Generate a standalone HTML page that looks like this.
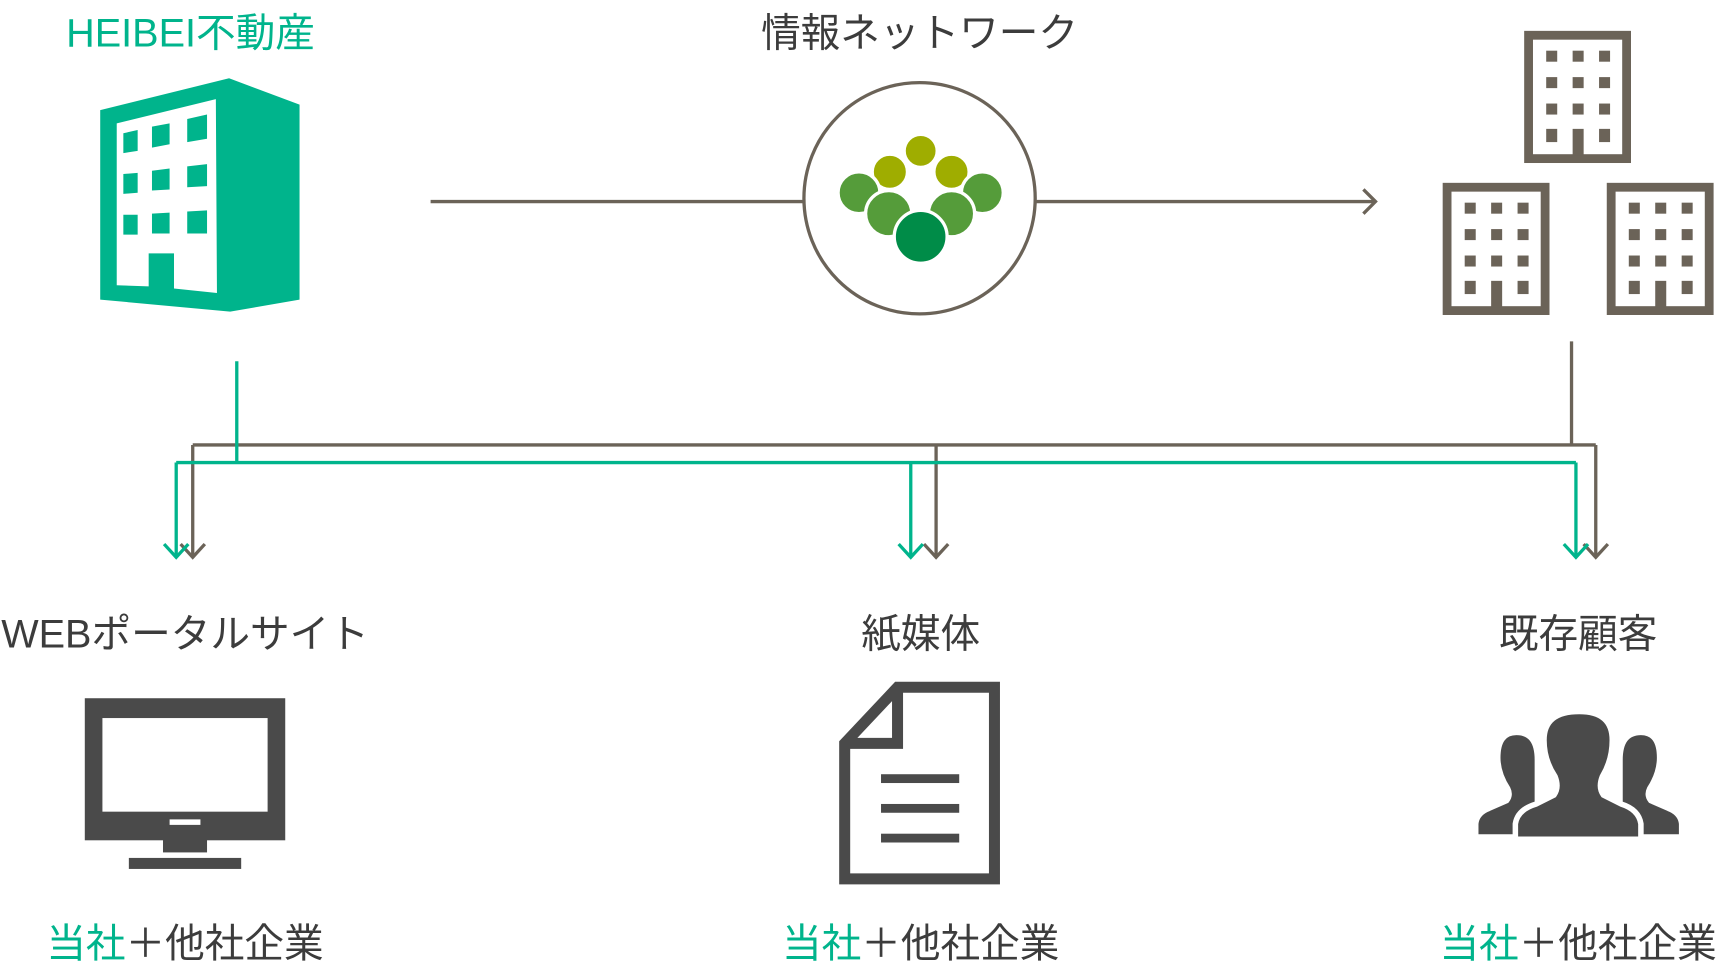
<!DOCTYPE html>
<html><head><meta charset="utf-8"><style>
html,body{margin:0;padding:0;background:#fff;}
svg{display:block;}
text{font-family:"Liberation Sans","Noto Sans CJK JP",sans-serif;}
</style></head><body>
<svg width="1718" height="964" viewBox="0 0 1560 875.3" xmlns="http://www.w3.org/2000/svg">
<!-- titles -->
<text x="173" y="42" font-size="36" fill="#00b48c" text-anchor="middle">HEIBEI不動産</text>
<text x="835" y="42" font-size="36" fill="#3c3c3c" text-anchor="middle">情報ネットワーク</text>

<!-- green building -->
<polygon points="91,100 208,71 272,95 272,272 209,283 91,272" fill="#00b48c"/>
<polygon points="106,112 196,90 197,266 158,262 158,230 135,230 135,260 106,259" fill="#fff"/>
<g fill="#00b48c">
<polygon points="112,121 125,118 125,137 112,139"/>
<polygon points="138,115 154,112 154,131 138,134"/>
<polygon points="170,108 188,104 188,126 170,129"/>
<polygon points="112,158 125,157 125,175 112,176"/>
<polygon points="138,155 154,153 154,172 138,173"/>
<polygon points="170,151 188,149 188,169 170,170"/>
<polygon points="112,195 125,195 125,213 112,213"/>
<polygon points="138,194 154,193 154,212 138,212"/>
<polygon points="170,192 188,191 188,212 170,212"/>
</g>

<!-- connectors top -->
<g stroke="#6b6358" stroke-width="3" fill="none">
<line x1="391" y1="183" x2="729" y2="183"/>
<line x1="941" y1="183" x2="1249" y2="183"/>
<polyline points="1238,172 1249,183 1238,194"/>
<circle cx="835" cy="180" r="105"/>
</g>
<!-- dots -->
<g stroke="#fff" stroke-width="3">
<circle cx="808" cy="156" r="16" fill="#9fad00"/>
<circle cx="864" cy="156" r="16" fill="#9fad00"/>
<circle cx="836" cy="137" r="15" fill="#9fad00"/>
<circle cx="780" cy="175" r="19" fill="#559c3a"/>
<circle cx="892" cy="175" r="19" fill="#559c3a"/>
<circle cx="807" cy="194" r="21" fill="#559c3a"/>
<circle cx="864" cy="194" r="21" fill="#559c3a"/>
<circle cx="836" cy="215" r="24" fill="#008c48"/>
</g>

<!-- brown buildings -->
<g fill="#6b6358">
<g id="bld">
<rect x="1384" y="28" width="97" height="120"/>
<rect x="1392" y="36" width="81" height="104" fill="#fff"/>
<g>
<rect x="1404" y="46" width="10" height="10"/><rect x="1428" y="46" width="10" height="10"/><rect x="1452" y="46" width="10" height="10"/>
<rect x="1404" y="70" width="10" height="10"/><rect x="1428" y="70" width="10" height="10"/><rect x="1452" y="70" width="10" height="10"/>
<rect x="1404" y="94" width="10" height="10"/><rect x="1428" y="94" width="10" height="10"/><rect x="1452" y="94" width="10" height="10"/>
<rect x="1404" y="117" width="10" height="12"/><rect x="1452" y="117" width="10" height="12"/>
<rect x="1428" y="117" width="10" height="24"/>
</g>
</g>
<use href="#bld" x="-74" y="138"/>
<use href="#bld" x="75" y="138"/>
</g>

<!-- connector tree -->
<g stroke="#6b6358" stroke-width="3" fill="none">
<line x1="1427" y1="310" x2="1427" y2="404"/>
<line x1="175" y1="404" x2="1449" y2="404"/>
<line x1="175" y1="404" x2="175" y2="506"/>
<line x1="850" y1="404" x2="850" y2="506"/>
<line x1="1449" y1="404" x2="1449" y2="506"/>
<polyline points="164,494 175,506 186,494"/>
<polyline points="839,494 850,506 861,494"/>
<polyline points="1438,494 1449,506 1460,494"/>
</g>
<g stroke="#00b48c" stroke-width="3" fill="none">
<line x1="215" y1="328" x2="215" y2="420"/>
<line x1="160" y1="420" x2="1431" y2="420"/>
<line x1="160" y1="420" x2="160" y2="506"/>
<line x1="827" y1="420" x2="827" y2="506"/>
<line x1="1431" y1="420" x2="1431" y2="506"/>
<polyline points="149,494 160,506 171,494"/>
<polyline points="816,494 827,506 838,494"/>
<polyline points="1420,494 1431,506 1442,494"/>
</g>

<!-- middle labels -->
<text x="168" y="588" font-size="36" fill="#3c3c3c" text-anchor="middle">WEBポータルサイト</text>
<text x="836" y="588" font-size="36" fill="#3c3c3c" text-anchor="middle">紙媒体</text>
<text x="1433" y="588" font-size="36" fill="#3c3c3c" text-anchor="middle">既存顧客</text>

<!-- monitor -->
<g fill="#4a4a4a">
<rect x="77" y="634" width="182" height="129"/>
<rect x="148" y="762" width="40" height="12"/>
<rect x="117" y="779" width="102" height="10"/>
</g>
<rect x="93" y="652" width="150" height="85" fill="#fff"/>
<rect x="154" y="744" width="28" height="5" fill="#fff"/>

<!-- document -->
<path d="M767,675 L767,798 L903,798 L903,624 L815,624 Z" fill="none" stroke="#4a4a4a" stroke-width="10"/>
<path d="M815,624 L815,675 L767,675" fill="none" stroke="#4a4a4a" stroke-width="10"/>
<g fill="#4a4a4a">
<rect x="800" y="703" width="71" height="8"/>
<rect x="800" y="730" width="71" height="8"/>
<rect x="800" y="757" width="71" height="8"/>
</g>

<!-- people -->
<g fill="#4a4a4a" stroke="#fff" stroke-width="5">
<path d="M1340,760 L1340,748 Q1341,738 1352,734 L1368,727 Q1372,722 1369,716 Q1360,702 1360,688 Q1360,665 1377,665 Q1396,665 1396,690 L1396,760 Z"/>
<path d="M1527,760 L1527,748 Q1526,738 1515,734 L1499,727 Q1495,722 1498,716 Q1507,702 1507,688 Q1507,665 1490,665 Q1471,665 1471,690 L1471,760 Z"/>
<path d="M1376,762 L1376,748 Q1378,735 1395,730 L1411,722 Q1416,715 1412,705 Q1402,690 1402,672 Q1402,646 1434,646 Q1464,646 1464,672 Q1464,690 1455,705 Q1451,715 1456,722 L1472,730 Q1488,735 1490,748 L1490,762 Z"/>
</g>

<!-- bottom labels -->
<text x="168" y="869" font-size="36" fill="#3c3c3c" text-anchor="middle"><tspan fill="#00b48c">当社</tspan>＋他社企業</text>
<text x="836" y="869" font-size="36" fill="#3c3c3c" text-anchor="middle"><tspan fill="#00b48c">当社</tspan>＋他社企業</text>
<text x="1433" y="869" font-size="36" fill="#3c3c3c" text-anchor="middle"><tspan fill="#00b48c">当社</tspan>＋他社企業</text>
</svg>
</body></html>
